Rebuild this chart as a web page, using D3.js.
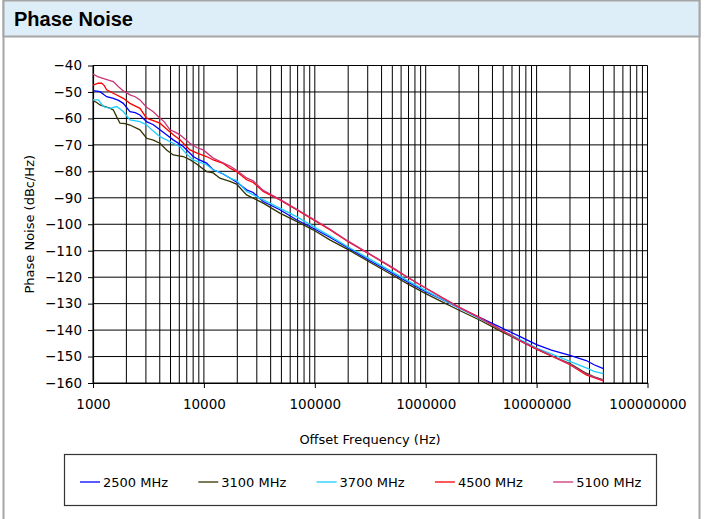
<!DOCTYPE html>
<html lang="en">
<head>
  <meta charset="UTF-8">
  <title>Phase Noise</title>
  <script src="https://d3js.org/d3.v7.min.js"></script>
  <style>
    body {
      margin: 0;
      background: #ffffff;
    }

    svg text {
      font-family: "DejaVu Sans", Verdana, sans-serif;
      fill: #000;
    }

    .title {
      font-family: "Liberation Sans", Arial, sans-serif !important;
      font-weight: bold;
      font-size: 20px;
    }

    .grid line {
      stroke: #000;
      stroke-width: 1;
    }

    .axis text {
      font-size: 13.5px;
    }

    .axis path,
    .axis line {
      stroke: #000;
    }

    .series {
      fill: none;
      stroke-width: 1.3;
    }
  </style>
</head>
<body>

<svg width="705" height="519"></svg>

<script>
  // series: [offset frequency (Hz), phase noise (dBc/Hz)]
  const s2500 = [
    [1000, -49.5], [1156, -49.9], [1250, -51.0], [1328, -51.8], [1525, -52.4], [1700, -53.2],
    [1876, -54.3], [2154, -57.4], [2400, -57.8], [2650, -58.7], [3043, -61.2], [3500, -62.4],
    [4015, -64.3], [4600, -66.2], [5290, -68.1], [6515, -70.6], [8010, -74.4], [9000, -75.6],
    [10570, -76.9], [12130, -79.4], [14930, -81.0], [17150, -82.5], [19700, -84.0], [24250, -87.0],
    [27800, -88.0], [34250, -91.4], [48400, -94.5], [68400, -98.3], [96600, -101.5], [136500, -104.9],
    [200000, -109.0], [300000, -113.3], [500000, -118.5], [700000, -122.0], [1000000, -125.5],
    [1500000, -129.0], [2000000, -131.6], [3060000, -135.2], [4640000, -138.8], [7030000, -142.4],
    [10000000, -145.5], [13600000, -147.6], [20000000, -149.6], [28000000, -151.5], [33000000, -153.1],
    [40000000, -154.6]
  ];

  const s3100 = [
    [1000, -53.3], [1080, -54.0], [1156, -54.9], [1283, -55.5], [1400, -56.0], [1525, -56.8],
    [1640, -59.5], [1751, -61.8], [1950, -62.0], [2154, -62.5], [2650, -64.3], [3043, -67.5],
    [3500, -68.2], [4015, -69.4], [4610, -71.9], [5290, -73.8], [6515, -74.4], [7480, -75.6],
    [8590, -77.2], [10570, -80.1], [12130, -80.6], [13930, -82.6], [17150, -83.8], [19700, -84.8],
    [24250, -88.9], [34250, -92.0], [48400, -95.8], [68400, -98.9], [96600, -102.1], [136500, -105.9],
    [200000, -109.6], [300000, -113.9], [500000, -119.2], [700000, -122.7], [1000000, -126.2],
    [1500000, -129.9], [2000000, -132.5], [3060000, -136.2], [4640000, -140.2], [7030000, -144.0],
    [10000000, -147.2], [13600000, -149.7], [20000000, -152.7], [28000000, -156.3], [33000000, -157.7],
    [40000000, -158.8]
  ];

  const s3700 = [
    [1000, -53.0], [1117, -53.0], [1239, -55.5], [1423, -56.2], [1634, -55.5], [1876, -57.4],
    [2154, -60.6], [2650, -61.2], [3043, -62.5], [3500, -64.8], [4015, -66.9], [5290, -69.4],
    [6080, -70.6], [7000, -73.5], [8010, -75.7], [10570, -77.5], [12130, -79.4], [14930, -80.9],
    [17150, -82.6], [19700, -83.5], [24250, -87.6], [34250, -90.8], [48400, -93.9], [68400, -97.1],
    [96600, -100.8], [136500, -104.4], [200000, -108.6], [300000, -112.7], [500000, -118.0],
    [700000, -121.5], [1000000, -125.1], [1500000, -129.0], [2000000, -131.6], [3060000, -135.6],
    [4640000, -139.6], [7030000, -143.5], [10000000, -146.8], [13600000, -149.0], [20000000, -151.8],
    [28000000, -154.3], [33000000, -155.6], [40000000, -156.5]
  ];

  const s4500 = [
    [1000, -47.4], [1117, -46.7], [1197, -46.7], [1260, -47.5], [1328, -49.2], [1525, -50.5],
    [1876, -52.4], [2154, -54.3], [2650, -56.2], [3043, -59.9], [4015, -61.8], [4600, -64.0],
    [5290, -66.2], [6080, -68.1], [7480, -71.9], [8800, -73.2], [10570, -74.4], [12130, -75.7],
    [14930, -77.0], [17150, -78.8], [19700, -80.1], [24250, -83.2], [27800, -84.2], [34250, -87.6],
    [48400, -90.8], [68400, -94.5], [96600, -98.3], [136500, -102.1], [200000, -106.6],
    [300000, -110.9], [500000, -116.5], [700000, -120.3], [1000000, -124.1], [1500000, -128.4],
    [2000000, -131.3], [3060000, -135.3], [4640000, -139.6], [7030000, -143.9], [10000000, -147.2],
    [13600000, -149.8], [20000000, -153.1], [28000000, -156.9], [33000000, -158.0], [40000000, -159.2]
  ];

  const s5100 = [
    [1000, -43.2], [1100, -44.2], [1250, -45.0], [1400, -45.6], [1525, -46.1], [1700, -48.0],
    [1876, -49.6], [2154, -51.1], [2400, -51.8], [2650, -53.0], [3043, -55.8], [3500, -57.5],
    [4015, -59.9], [4400, -61.3], [4940, -64.3], [5500, -65.2], [6080, -66.2], [7480, -69.4],
    [8600, -71.0], [9860, -71.9], [12130, -75.0], [13930, -76.2], [17150, -78.0], [19700, -79.6],
    [24250, -82.5], [27800, -83.6], [34250, -87.2], [48400, -90.6], [68400, -94.3], [96600, -98.0],
    [136500, -101.8], [200000, -106.4], [300000, -110.8], [500000, -116.3], [700000, -120.2],
    [1000000, -124.2], [1500000, -128.5], [2000000, -131.4], [3060000, -135.4], [4640000, -139.7],
    [7030000, -143.9], [10000000, -147.0], [13600000, -149.6], [20000000, -152.9], [28000000, -156.6],
    [33000000, -157.8], [40000000, -158.9]
  ];

  const seriesNames = ["2500 MHz", "3100 MHz", "3700 MHz", "4500 MHz", "5100 MHz"];
  const seriesData = [s2500, s3100, s3700, s4500, s5100];
  const seriesColors = ["#0000ff", "#333300", "#1ccdff", "#ff0000", "#cc3377"];

  const xTicks = [1000, 10000, 100000, 1000000, 10000000, 100000000];
  const yTicks = [-40, -50, -60, -70, -80, -90, -100, -110, -120, -130, -140, -150, -160];

  const width = 705;
  const height = 519;
  const svg = d3.select("svg").attr("width", width).attr("height", height);

  // panel frame + title bar
  svg.append("rect")
    .attr("x", 3.5).attr("y", 0.5)
    .attr("width", 696).attr("height", 560)
    .attr("fill", "#fff")
    .attr("stroke", "#a6a6a6")
    .attr("stroke-width", 2);

  svg.append("rect")
    .attr("x", 3.5).attr("y", 0.5)
    .attr("width", 696).attr("height", 36)
    .attr("fill", "#deeef9")
    .attr("stroke", "#a6a6a6")
    .attr("stroke-width", 2);

  svg.append("text")
    .attr("class", "title")
    .attr("x", 14)
    .attr("y", 26)
    .text("Phase Noise");

  const x = d3.scaleLog().domain([1000, 100000000]).range([93, 647.5]);
  const y = d3.scaleLinear().domain([-160, -40]).range([383, 65.5]);

  // grid
  const grid = svg.append("g").attr("class", "grid");
  grid.selectAll(".vx")
    .data(x.ticks())
    .join("line")
    .attr("x1", d => x(d)).attr("x2", d => x(d))
    .attr("y1", y(-40)).attr("y2", y(-160));

  grid.selectAll(".hy")
    .data(yTicks)
    .join("line")
    .attr("x1", x(1000)).attr("x2", x(100000000))
    .attr("y1", d => y(d)).attr("y2", d => y(d));

  // axes
  svg.append("g")
    .attr("class", "axis")
    .attr("transform", `translate(0,${y(-160)})`)
    .call(d3.axisBottom(x).tickValues(xTicks).tickFormat(d3.format("d")).tickSize(5).tickSizeOuter(0).tickPadding(11));

  svg.append("g")
    .attr("class", "axis")
    .attr("transform", `translate(${x(1000)},0)`)
    .call(d3.axisLeft(y).tickValues(yTicks).tickSize(5).tickSizeOuter(0).tickPadding(6));

  svg.selectAll(".axis .domain").attr("stroke-width", 1.2);

  // series lines
  const line = d3.line()
    .x(d => x(d[0]))
    .y(d => y(d[1]));

  svg.selectAll(".series")
    .data(seriesData)
    .join("path")
    .attr("class", "series")
    .attr("stroke", (d, i) => seriesColors[i])
    .attr("d", line);

  // axis titles
  svg.append("text")
    .attr("x", 370)
    .attr("y", 444)
    .attr("text-anchor", "middle")
    .attr("font-size", "13px")
    .text("Offset Frequency (Hz)");

  svg.append("text")
    .attr("transform", `translate(34,${(y(-40) + y(-160)) / 2}) rotate(-90)`)
    .attr("text-anchor", "middle")
    .attr("font-size", "13px")
    .text("Phase Noise (dBc/Hz)");

  // legend
  const legend = svg.append("g");
  legend.append("rect")
    .attr("x", 64.5).attr("y", 454.5)
    .attr("width", 592).attr("height", 51)
    .attr("fill", "#fff")
    .attr("stroke", "#333")
    .attr("stroke-width", 1.2);

  const item = legend.selectAll(".item")
    .data(seriesNames)
    .join("g")
    .attr("transform", (d, i) => `translate(${80 + i * 118.3},482)`);

  item.append("line")
    .attr("x1", 0).attr("x2", 20)
    .attr("stroke", (d, i) => seriesColors[i])
    .attr("stroke-width", 1.3);

  item.append("text")
    .attr("x", 23)
    .attr("dy", "0.35em")
    .attr("font-size", "13px")
    .text(d => d);
</script>

</body>
</html>
